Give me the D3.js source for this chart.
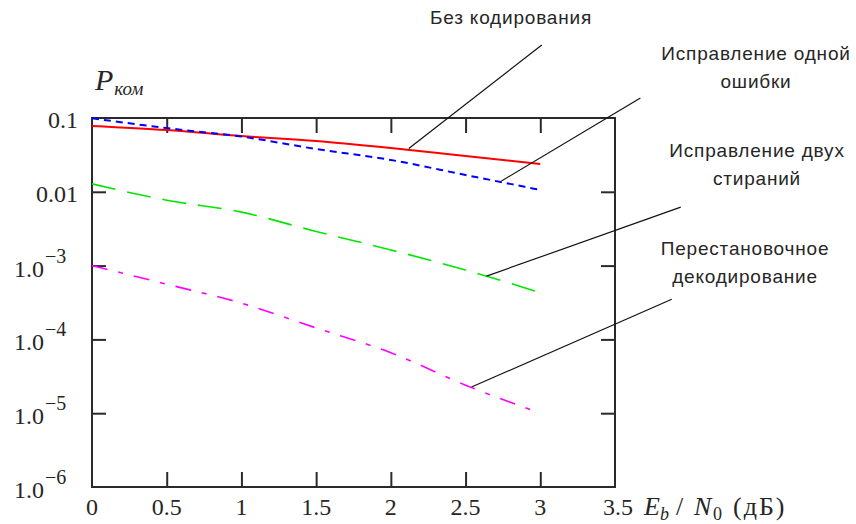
<!DOCTYPE html>
<html>
<head>
<meta charset="utf-8">
<script src="https://cdn.jsdelivr.net/npm/d3@7"></script>
<style>
  body { margin: 0; background: #fff; }
  svg { display: block; }
</style>
</head>
<body>
<svg id="chart" width="856" height="524"></svg>
<script>
// Error probability vs Eb/N0 for several decoding schemes (log scale)

const ebn0 = [0, 0.5, 1, 1.5, 2, 2.5, 3];
const pUncoded = [0.078, 0.0687, 0.057, 0.0488, 0.0392, 0.0305, 0.0238];
const pSingleError = [0.099, 0.073, 0.056, 0.038, 0.027, 0.0169, 0.0106];
const pTwoErasures = [0.0128, 0.0077, 0.0053, 0.0029, 0.00163, 0.00087, 0.00043];
const pPermutation = [0.001, 0.00056, 0.00031, 0.000143, 0.000066, 0.000024, 0.00001];

const xTicks = [0, 0.5, 1, 1.5, 2, 2.5, 3, 3.5];
const yTicks = [0.1, 0.01, 1e-3, 1e-4, 1e-5, 1e-6];
const yTickBase = ["0.1", "0.01", "1.0", "1.0", "1.0", "1.0"];
const yTickExp = ["", "", "\u22123", "\u22124", "\u22125", "\u22126"];

const seriesNames = ["Без кодирования", "Исправление одной ошибки", "Исправление двух стираний", "Перестановочное декодирование"];

// leader lines: [x, p] on the curve, [x, p] at the label end
const leaderCurve = [[2.12, 0.0385], [2.74, 0.014], [2.64, 7.2e-4], [2.54, 2.26e-5]];
const leaderLabel = [[3.01, 0.975], [3.67, 0.187], [3.94, 6.2e-3], [3.88, 3.5e-4]];

const svg = d3.select("#chart");

const plot = {left: 92, right: 615, top: 118, bottom: 487};

const x = d3.scaleLinear().domain([0, 3.5]).range([plot.left, plot.right]);
const y = d3.scaleLog().domain([1e-6, 0.1]).range([plot.bottom, plot.top]);

const serif = "'Liberation Serif', 'DejaVu Serif', serif";
const sans = "'Liberation Sans', Arial, sans-serif";
const axisColor = "#2a2a2a";
const textColor = "#262626";

// ticks on all four sides, pointing inward
function styleAxis(g) {
  g.select(".domain").remove();
  g.selectAll(".tick line").attr("stroke", axisColor).attr("stroke-width", 2);
  g.selectAll(".tick text").remove();
}

svg.append("g")
  .attr("transform", `translate(0,${plot.bottom})`)
  .call(d3.axisBottom(x).tickValues(xTicks.slice(1, -1)).tickSize(-15).tickSizeOuter(0))
  .call(styleAxis);

svg.append("g")
  .attr("transform", `translate(0,${plot.top})`)
  .call(d3.axisTop(x).tickValues(xTicks.slice(1, -1)).tickSize(-15).tickSizeOuter(0))
  .call(styleAxis);

svg.append("g")
  .attr("transform", `translate(${plot.left},0)`)
  .call(d3.axisLeft(y).tickValues(yTicks.slice(1, -1)).tickSize(-14).tickSizeOuter(0))
  .call(styleAxis);

svg.append("g")
  .attr("transform", `translate(${plot.right},0)`)
  .call(d3.axisRight(y).tickValues(yTicks.slice(1, -1)).tickSize(-14).tickSizeOuter(0))
  .call(styleAxis);

svg.append("rect")
  .attr("x", plot.left).attr("y", plot.top)
  .attr("width", plot.right - plot.left).attr("height", plot.bottom - plot.top)
  .attr("fill", "none")
  .attr("stroke", axisColor)
  .attr("stroke-width", 2);

// x tick labels (the last one sits a little right of its tick, as in the original)
svg.append("g")
  .selectAll("text")
  .data(xTicks)
  .join("text")
  .attr("x", (d, i) => x(d) + (i === xTicks.length - 1 ? 3 : 0))
  .attr("y", plot.bottom + 28)
  .attr("text-anchor", "middle")
  .attr("font-family", serif)
  .attr("font-size", 24)
  .attr("fill", textColor)
  .text(d => d3.format("")(d));

// y tick labels
const yLab = svg.append("g")
  .selectAll("g")
  .data(yTicks)
  .join("g");

yLab.filter((d, i) => !yTickExp[i])
  .append("text")
  .attr("x", 78)
  .attr("y", d => y(d) + 10)
  .attr("text-anchor", "end")
  .attr("font-family", serif)
  .attr("font-size", 24)
  .attr("fill", textColor)
  .text(d => yTickBase[yTicks.indexOf(d)]);

yLab.filter((d, i) => !!yTickExp[i])
  .each(function (d) {
    const i = yTicks.indexOf(d);
    const g = d3.select(this);
    g.append("text")
      .attr("x", 44)
      .attr("y", y(d) + 11)
      .attr("text-anchor", "end")
      .attr("font-family", serif)
      .attr("font-size", 24)
      .attr("fill", textColor)
      .text(yTickBase[i]);
    g.append("text")
      .attr("x", 45)
      .attr("y", y(d) - 3)
      .attr("font-family", serif)
      .attr("font-size", 20)
      .attr("fill", textColor)
      .text(yTickExp[i]);
  });

// axis titles
const yTitle = svg.append("text")
  .attr("x", 95)
  .attr("y", 90)
  .attr("font-family", serif)
  .attr("font-style", "italic")
  .attr("fill", textColor);
yTitle.append("tspan").attr("font-size", 30).text("P");
yTitle.append("tspan").attr("font-size", 19).attr("dx", 1).attr("dy", 5).text("ком");

const xTitle = svg.append("text")
  .attr("y", plot.bottom + 28)
  .attr("font-family", serif)
  .attr("font-size", 26)
  .attr("fill", textColor);
xTitle.append("tspan").attr("x", 644).attr("font-style", "italic").text("E");
xTitle.append("tspan").attr("x", 660).attr("font-style", "italic").attr("font-size", 18).attr("dy", 5).text("b");
xTitle.append("tspan").attr("x", 676).attr("dy", -5).text("/");
xTitle.append("tspan").attr("x", 694).attr("font-style", "italic").text("N");
xTitle.append("tspan").attr("x", 713).attr("font-size", 18).attr("dy", 5).text("0");
xTitle.append("tspan").attr("x", 733).attr("dy", -5).attr("letter-spacing", 2).text("(дБ)");

// curves
const series = [
  {values: pUncoded, color: "#ff0000", dash: null, width: 2},
  {values: pSingleError, color: "#0000ff", dash: "7,5", width: 2},
  {values: pTwoErasures, color: "#00e600", dash: "24,12", width: 1.6},
  {values: pPermutation, color: "#ff00ff", dash: "16,11,5,11", width: 1.6}
];

const line = d3.line()
  .x(d => x(d[0]))
  .y(d => y(d[1]))
  .curve(d3.curveMonotoneX);

svg.append("g")
  .selectAll("path")
  .data(series)
  .join("path")
  .attr("d", s => line(ebn0.map((e, i) => [e, s.values[i]])))
  .attr("fill", "none")
  .attr("stroke", s => s.color)
  .attr("stroke-width", s => s.width)
  .attr("stroke-dasharray", s => s.dash);

// leader lines
svg.append("g")
  .selectAll("line")
  .data(leaderCurve)
  .join("line")
  .attr("x1", d => x(d[0]))
  .attr("y1", d => y(d[1]))
  .attr("x2", (d, i) => x(leaderLabel[i][0]))
  .attr("y2", (d, i) => y(leaderLabel[i][1]))
  .attr("stroke", "#111")
  .attr("stroke-width", 1.2);

// annotation labels
const labelPos = [[511, 24, null], [756, 60, 88], [757, 157, 185], [745, 255, 283]];
const labelLines = [
  ["Без кодирования"],
  ["Исправление одной", "ошибки"],
  ["Исправление двух", "стираний"],
  ["Перестановочное", "декодирование"]
];

svg.append("g")
  .selectAll("text")
  .data(labelLines)
  .join("text")
  .attr("text-anchor", "middle")
  .attr("font-family", sans)
  .attr("font-size", 19)
  .attr("letter-spacing", 0.8)
  .attr("fill", textColor)
  .attr("aria-label", (d, i) => seriesNames[i])
  .each(function (d, i) {
    d3.select(this).selectAll("tspan")
      .data(d)
      .join("tspan")
      .attr("x", labelPos[i][0])
      .attr("y", (t, j) => labelPos[i][j + 1])
      .text(t => t);
  });
</script>
</body>
</html>
